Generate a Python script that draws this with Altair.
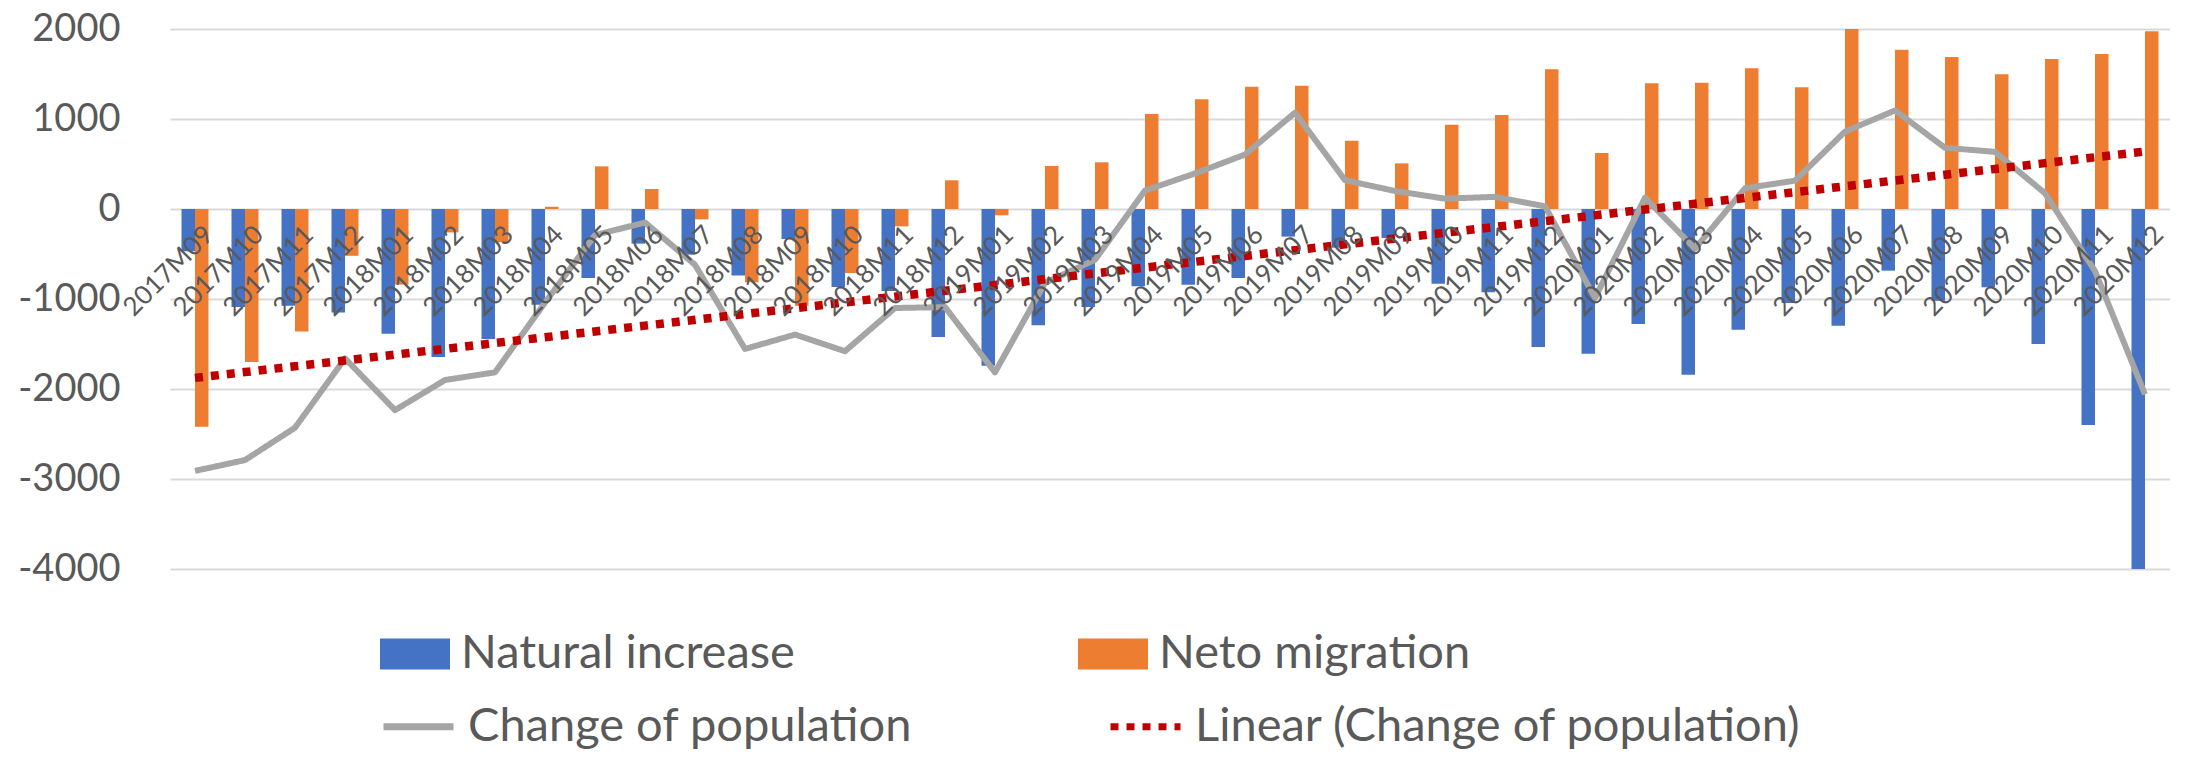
import altair as alt
import pandas as pd
import numpy as np

months = [
    "2017M09", "2017M10", "2017M11", "2017M12",
    "2018M01", "2018M02", "2018M03", "2018M04", "2018M05", "2018M06",
    "2018M07", "2018M08", "2018M09", "2018M10", "2018M11", "2018M12",
    "2019M01", "2019M02", "2019M03", "2019M04", "2019M05", "2019M06",
    "2019M07", "2019M08", "2019M09", "2019M10", "2019M11", "2019M12",
    "2020M01", "2020M02", "2020M03", "2020M04", "2020M05", "2020M06",
    "2020M07", "2020M08", "2020M09", "2020M10", "2020M11", "2020M12",
]

natural_increase = [
    -470, -1090, -1075, -1150,
    -1385, -1645, -1445, -1063, -767, -385,
    -507, -740, -333, -867, -910, -1422,
    -1741, -1293, -1089, -859, -841, -767,
    -307, -430, -322, -830, -926, -1533,
    -1607, -1278, -1841, -1341, -1044, -1296,
    -685, -1019, -870, -1500, -2400, -4030,
]

neto_migration = [
    -2420, -1700, -1360, -520,
    -840, -260, -370, 25, 474, 222,
    -115, -815, -1074, -711, -193, 319,
    -70, 478, 519, 1056, 1219, 1359,
    1370, 759, 507, 937, 1044, 1552,
    622, 1396, 1404, 1563, 1352, 2150,
    1770, 1689, 1496, 1667, 1722, 1974,
]

change_of_population = [
    -2910, -2790, -2430, -1660,
    -2235, -1900, -1815, -1040, -290, -150,
    -620, -1555, -1395, -1580, -1100, -1090,
    -1815, -820, -565, 205, 395, 605,
    1070, 320, 200, 115, 135, 30,
    -988, 125, -440, 230, 315, 860,
    1095, 680, 635, 175, -690, -2060,
]

bar_series = ["Natural increase", "Neto migration"]
line_series = ["Change of population", "Linear (Change of population)"]
bar_colors = ["#4472C4", "#ED7D31"]
line_colors = ["#A5A5A5", "#C00000"]
y_ticks = [-4000, -3000, -2000, -1000, 0, 1000, 2000]

n = len(months)
idx = np.arange(n)
slope, intercept = np.polyfit(idx, np.array(change_of_population, dtype=float), 1)
trend = (intercept + slope * idx).tolist()

bars_df = pd.DataFrame({
    "month": months * 2,
    "series": [bar_series[0]] * n + [bar_series[1]] * n,
    "value": natural_increase + neto_migration,
})
change_df = pd.DataFrame({"month": months, "series": line_series[0], "value": change_of_population})
trend_df = pd.DataFrame({"month": months, "series": line_series[1], "value": trend})

FONT = "Lato"
GREY_TEXT = "#595959"

x_enc = alt.X(
    "month:N",
    sort=months,
    scale=alt.Scale(paddingInner=0.46, paddingOuter=0.23),
    axis=alt.Axis(
        title=None, orient="bottom", offset=-360, domain=False, ticks=False,
        labelAngle=-45, labelAlign="right", labelBaseline="top",
        labelPadding=12, labelOffset=5, labelFontSize=26, labelFont=FONT,
        labelColor=GREY_TEXT, labelOverlap=False, labelBound=False, zindex=1,
    ),
)

y_scale = alt.Scale(domain=[-4000, 2000], nice=False, zero=False)
y_axis = alt.Axis(
    title=None, values=y_ticks, domain=False, ticks=False,
    labelFontSize=38, labelFont=FONT, labelColor=GREY_TEXT, labelPadding=50,
    labelExpr="'' + datum.value",
    grid=True, gridColor="#D9D9D9", gridWidth=2,
)

bar_legend = alt.Legend(
    title=None, orient="none", legendX=210, legendY=590, direction="horizontal",
    symbolType="M-1,-0.44L1,-0.44L1,0.44L-1,0.44Z", symbolSize=4900,
    symbolStrokeWidth=0, labelFont=FONT, labelFontSize=47, labelColor=GREY_TEXT,
    labelOffset=11, columnPadding=283, padding=0, labelLimit=800,
)

line_legend = alt.Legend(
    title=None, orient="none", legendX=210, legendY=659, direction="horizontal",
    symbolType="stroke", symbolSize=4900, symbolStrokeWidth=7,
    labelFont=FONT, labelFontSize=47, labelColor=GREY_TEXT,
    labelOffset=11, columnPadding=183, padding=0, labelLimit=800,
)

stroke_enc = alt.Stroke("series:N", sort=line_series,
                        scale=alt.Scale(domain=line_series, range=line_colors),
                        legend=line_legend)
dash_enc = alt.StrokeDash("series:N", sort=line_series,
                          scale=alt.Scale(domain=line_series, range=[[1, 0], [8, 8]]),
                          legend=line_legend)

bars = alt.Chart(bars_df).mark_bar(clip=True).encode(
    x=x_enc,
    xOffset=alt.XOffset("series:N", sort=bar_series),
    y=alt.Y("value:Q", scale=y_scale, axis=y_axis),
    fill=alt.Fill("series:N", sort=bar_series,
                  scale=alt.Scale(domain=bar_series, range=bar_colors),
                  legend=bar_legend),
)

change_line = alt.Chart(change_df).mark_line(
    clip=True, strokeWidth=6, strokeJoin="round"
).encode(
    x=x_enc,
    y=alt.Y("value:Q", scale=y_scale, axis=y_axis),
    stroke=stroke_enc,
    strokeDash=dash_enc,
)

trend_line = alt.Chart(trend_df).mark_line(
    clip=True, strokeWidth=8.5, strokeCap="butt"
).encode(
    x=x_enc,
    y=alt.Y("value:Q", scale=y_scale, axis=y_axis),
    stroke=stroke_enc,
    strokeDash=dash_enc,
)

chart = alt.layer(bars, change_line, trend_line).properties(
    width=2000, height=540,
    autosize=alt.AutoSizeParams(type="none"),
    padding={"left": 162, "top": 21, "right": 0, "bottom": 181},
    background="white",
).configure_view(stroke=None)

chart.save("out.html", embed_options={"renderer": "svg", "actions": False})
